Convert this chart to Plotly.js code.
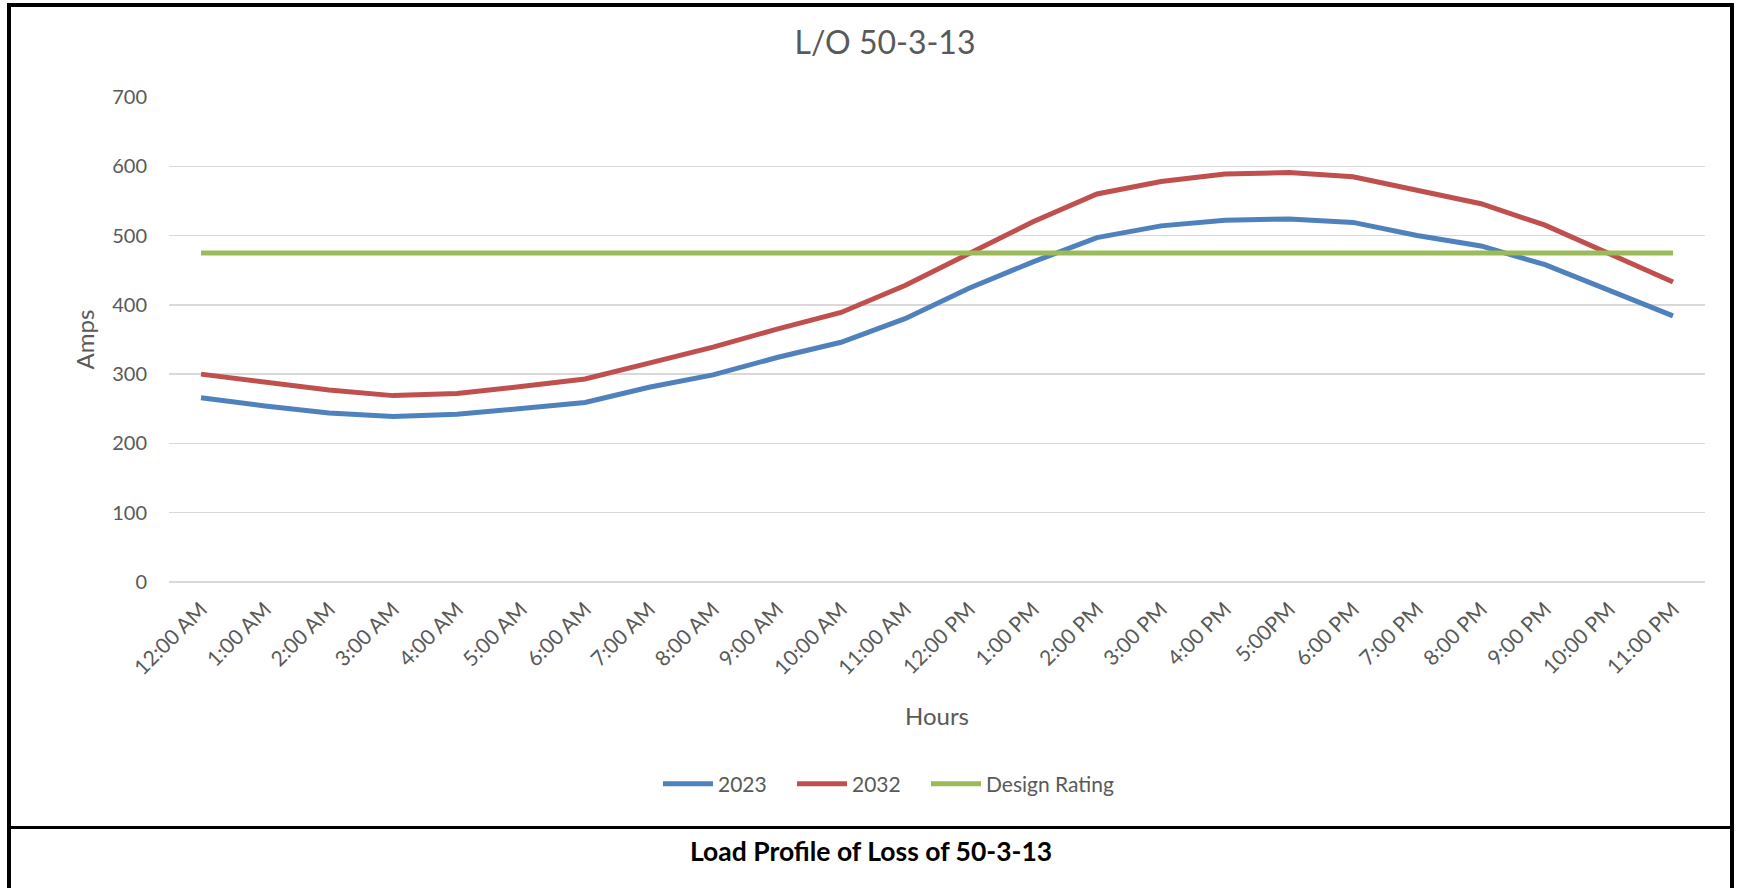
<!DOCTYPE html>
<html>
<head>
<meta charset="utf-8">
<script src="https://cdn.plot.ly/plotly-3.0.1.min.js"></script>
<style>
  html, body { margin: 0; padding: 0; background: #ffffff; }
  #wrap { position: relative; width: 1739px; height: 888px; overflow: hidden; }
  #chart { position: absolute; left: 0; top: 0; width: 1739px; height: 888px; }
  .bline { position: absolute; background: #000000; }
</style>
</head>
<body>
<div id="wrap">
  <div id="chart"></div>
  <div class="bline" style="left:7px; top:3px; width:1727px; height:4px;"></div>
  <div class="bline" style="left:7px; top:3px; width:4px; height:900px;"></div>
  <div class="bline" style="left:1730px; top:3px; width:4px; height:900px;"></div>
  <div class="bline" style="left:7px; top:826px; width:1727px; height:3px;"></div>
</div>
<script>
const hours = ["12:00 AM","1:00 AM","2:00 AM","3:00 AM","4:00 AM","5:00 AM","6:00 AM","7:00 AM","8:00 AM","9:00 AM","10:00 AM","11:00 AM","12:00 PM","1:00 PM","2:00 PM","3:00 PM","4:00 PM","5:00PM","6:00 PM","7:00 PM","8:00 PM","9:00 PM","10:00 PM","11:00 PM"];
const load2023 = [266, 254, 244, 239, 242, 251, 259, 281, 299, 324, 346, 380, 424, 462, 497, 514, 522, 524, 519, 500, 485, 458, 421, 384];
const load2032 = [300, 288, 277, 269, 272, 282, 293, 316, 339, 365, 389, 428, 474, 520, 560, 578, 589, 591, 585, 565, 546, 515, 474, 433];
const designRating = [475, 475, 475, 475, 475, 475, 475, 475, 475, 475, 475, 475, 475, 475, 475, 475, 475, 475, 475, 475, 475, 475, 475, 475];

const FONT = 'Lato, "Open Sans", sans-serif';
const GREY = '#595959';

const traces = [
  { x: hours, y: load2023, name: '2023', type: 'scatter', mode: 'lines', legend: 'legend',
    line: { color: '#4F81BD', width: 5 } },
  { x: hours, y: load2032, name: '2032', type: 'scatter', mode: 'lines', legend: 'legend2',
    line: { color: '#C0504D', width: 5 } },
  { x: hours, y: designRating, name: 'Design Rating', type: 'scatter', mode: 'lines', legend: 'legend3',
    line: { color: '#9BBB59', width: 5 } }
];

function legendAt(leftPx) {
  return {
    orientation: 'h',
    xanchor: 'left',
    x: (leftPx - 169) / 1536,
    y: (582 - 784) / 485, yanchor: 'middle',
    itemwidth: 50,
    font: { family: FONT, size: 21, color: GREY },
    bgcolor: 'rgba(0,0,0,0)',
    borderwidth: 0
  };
}

const layout = {
  width: 1739, height: 888,
  margin: { l: 169, r: 34, t: 97, b: 306 },
  paper_bgcolor: '#ffffff', plot_bgcolor: '#ffffff',
  font: { family: FONT, color: GREY, size: 20 },
  title: {
    text: 'L/O 50-3-13',
    font: { family: FONT, size: 32, color: GREY },
    xref: 'container', x: 885 / 1739, xanchor: 'center',
    yref: 'container', y: 1 - 43 / 888, yanchor: 'middle'
  },
  xaxis: {
    type: 'category',
    range: [-0.5, 23.5],
    tickangle: -45,
    showgrid: false, zeroline: false, showline: false,
    ticks: '',
    ticklabelstandoff: 10,
    tickfont: { family: FONT, size: 21, color: GREY },
    title: { text: 'Hours', font: { family: FONT, size: 24, color: GREY }, standoff: 30 }
  },
  yaxis: {
    range: [0, 700],
    dtick: 100,
    tick0: 0,
    showgrid: true, gridcolor: '#d9d9d9', gridwidth: 1.3,
    zeroline: true, zerolinecolor: '#d9d9d9', zerolinewidth: 1.3,
    showline: false, ticks: '',
    ticklabelstandoff: 21,
    tickfont: { family: FONT, size: 20, color: GREY },
    title: { text: 'Amps', font: { family: FONT, size: 24, color: GREY }, standoff: 10 }
  },
  showlegend: true,
  legend: legendAt(658),
  legend2: legendAt(792),
  legend3: legendAt(926),
  annotations: [
    {
      text: '<b>Load Profile of Loss of 50-3-13</b>',
      xref: 'paper', yref: 'paper',
      x: (871 - 169) / 1536, xanchor: 'center',
      y: (582 - 851) / 485, yanchor: 'middle',
      showarrow: false,
      font: { family: FONT, size: 26.5, color: '#000000' }
    }
  ],
  hovermode: false
};

Plotly.newPlot('chart', traces, layout, { staticPlot: true, displayModeBar: false });
</script>
</body>
</html>
